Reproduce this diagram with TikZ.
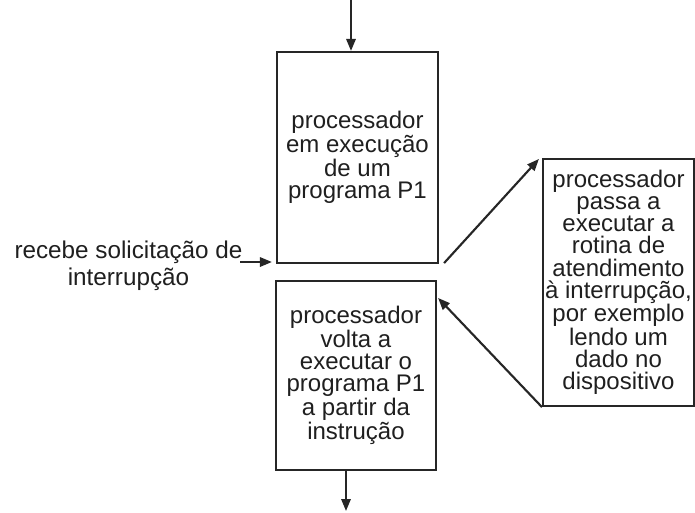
\documentclass[tikz,border=0pt]{standalone}
\usepackage{fontspec}
\setmainfont{Liberation Sans}
\usetikzlibrary{calc,arrows.meta}
\begin{document}
\begin{tikzpicture}[x=0.75pt,y=-0.75pt,
  box/.style={draw=black!85, line width=1.6pt, align=center, inner sep=0pt,
    font=\fontsize{18}{16.6}\selectfont, text=black!88},
  lbl/.style={align=center, inner sep=0pt, font=\fontsize{18.2}{20.3}\selectfont, text=black!88},
  arr/.style={draw=black!85, line width=1.6pt, -{Triangle[length=9pt,width=7pt]}}]
\useasboundingbox (0,0) rectangle (695,512);
\node[box, minimum width=120.75pt, minimum height=158.25pt] (b1) at (357.5,157.5)
  {processador\\em execução\\de um\\programa P1};
\node[box, minimum width=120pt, minimum height=141.75pt] (b2) at (356,375.5)
  {processador\\volta a\\executar o\\programa P1\\a partir da\\instrução};
\node[box, minimum width=113.25pt, minimum height=185.25pt] (b3) at (618.5,282.5)
  {processador\\passa a\\executar a\\rotina de\\atendimento\\à interrupção,\\por exemplo\\lendo um\\dado no\\dispositivo};
\node[lbl] (l) at (128.5,266) {recebe solicitação de\\interrupção};
\coordinate (t) at (351,0);
\coordinate (bo) at (346,511);
\coordinate (la) at (240,262);
\draw[arr] (t) -- (t |- b1.north);
\draw[arr] (bo |- b2.south) -- (bo);
\draw[arr, shorten >=3pt] (la) -- (la -| b1.west);
\draw[arr] ($(b1.south east)+(5,-1)$) -- ($(b3.north west)+(-3,1)$);
\draw[arr] (b3.south west) -- ($(b2.north east)+(1,18)$);
\end{tikzpicture}
\end{document}
